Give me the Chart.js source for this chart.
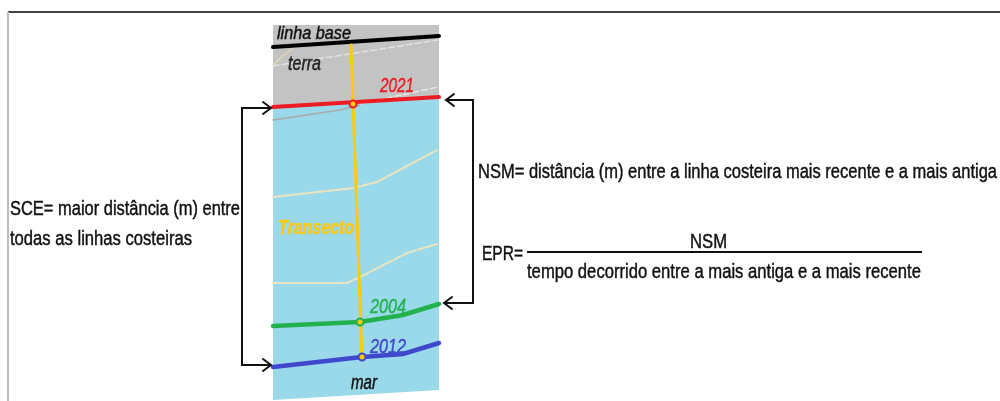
<!DOCTYPE html>
<html>
<head>
<meta charset="utf-8">
<script src="https://cdn.jsdelivr.net/npm/chart.js@4.4.1/dist/chart.umd.min.js"></script>
<style>
html,body{margin:0;padding:0;background:#fff;overflow:hidden;}
canvas{display:block;}
</style>
</head>
<body>
<canvas id="c" width="1000" height="401"></canvas>
<script>
// ---- diagram geometry (data units = reference pixels, y downward) ----
const frameTop = [{x:8,y:12},{x:1000,y:12}];
const frameLeft = [{x:8,y:12},{x:8,y:401}];
const line2021 = [{x:273,y:107},{x:439,y:97}];
const seaBottom = [{x:273,y:400},{x:439,y:390}];
const baseLine = [{x:273,y:47},{x:439,y:36}];
const line2004 = [{x:273,y:326},{x:360,y:322},{x:403,y:315},{x:439,y:304}];
const line2012 = [{x:273,y:367},{x:362,y:357},{x:403,y:354},{x:439,y:343}];
const transect = [{x:351,y:45},{x:362,y:360}];
const intersect2021 = [{x:353,y:104}];
const intersect2004 = [{x:360,y:322}];
const intersect2012 = [{x:362,y:357}];
const oldShoreA = [{x:273,y:65},{x:283,y:56},{x:292,y:49}];
const oldShoreB = [{x:273,y:66},{x:438,y:40}];
const oldShoreC1 = [{x:273,y:120},{x:340,y:110},{x:360,y:105}];
const oldShoreC2 = [{x:360,y:104},{x:438,y:87}];
const oldShoreW1 = [{x:273,y:197},{x:353,y:188},{x:377,y:182},{x:437,y:150}];
const oldShoreW2 = [{x:273,y:283},{x:347,y:283},{x:360,y:277},{x:407,y:253},{x:437,y:244}];
const bracketLeft = [{x:270,y:108},{x:242,y:108},{x:242,y:365},{x:270,y:365}];
const arrowLeftTop = [{x:263,y:102},{x:271,y:108},{x:263,y:114}];
const arrowLeftBottom = [{x:263,y:359},{x:271,y:365},{x:263,y:371}];
const bracketRight = [{x:447,y:100},{x:473,y:100},{x:473,y:303},{x:445,y:303}];
const arrowRightTop = [{x:454,y:94},{x:446,y:100},{x:454,y:106}];
const arrowRightBottom = [{x:452,y:297},{x:444,y:303},{x:452,y:309}];
const fractionBar = [{x:527,y:252},{x:922,y:252}];

// ---- texts ----
const labelTexts = ['linha base','terra','2021','Transecto','2004','2012','mar',
  'NSM= distância (m) entre a linha costeira mais recente e a mais antiga',
  'SCE= maior distância (m) entre','todas as linhas costeiras',
  'EPR=','NSM','tempo decorrido entre a mais antiga e a mais recente'];
const labelX = [277,288,380,278,370,370,351,478,10,10,482,690,527];
const labelY = [39,70,92,234,313,353,389,178,215,245,260,248,278];

// layout / style of texts
const labelStyle = [
  {w:74,size:18,font:'italic',color:'#111'},
  {w:33,size:20,font:'italic',color:'#222'},
  {w:34,size:20,font:'italic',color:'#ed1c24'},
  {w:76,size:21,font:'italic bold',color:'#ffc90e'},
  {w:36,size:21,font:'italic',color:'#22b14c'},
  {w:36,size:21,font:'italic',color:'#3f48cc'},
  {w:26,size:20,font:'italic',color:'#111'},
  {w:519,size:20,font:'',color:'#111'},
  {w:230,size:20,font:'',color:'#111'},
  {w:182,size:20,font:'',color:'#111'},
  {w:41,size:20,font:'',color:'#111'},
  {w:37,size:20,font:'',color:'#111'},
  {w:394,size:20,font:'',color:'#111'}
];

function ln(data, color, width, extra){
  return Object.assign({type:'scatter', data, showLine:true, borderColor:color, borderWidth:width,
    pointRadius:0, fill:false, tension:0, borderCapStyle:'round', borderJoinStyle:'miter'}, extra||{});
}

const datasets = [
  // 0 terra fill
  ln(line2021,'rgba(0,0,0,0)',0,{fill:{value:25}, backgroundColor:'#c3c3c3'}),
  // 1 sea fill
  ln(seaBottom,'rgba(0,0,0,0)',0,{fill:0, backgroundColor:'#99d9ea'}),
  ln(oldShoreA,'#e3d8ae',1.5),
  ln(oldShoreB,'#e2e2e2',1.5,{borderDash:[6,3]}),
  ln(oldShoreC1,'#a9a9a9',1.5),
  ln(oldShoreC2,'#e6e6e6',1.5,{borderDash:[6,3]}),
  ln(oldShoreW1,'#efe4c0',2,{borderDash:[7,2]}),
  ln(oldShoreW2,'#efe4c0',2,{borderDash:[7,2]}),
  ln(baseLine,'#000',4),
  ln(line2021,'#ed1c24',4),
  ln(line2004,'#22b14c',4.5),
  ln(line2012,'#3f48cc',4.5),
  ln(transect,'#ffc90e',3),
  {type:'scatter', data:intersect2021, pointRadius:3.5, pointBackgroundColor:'#ffc90e', pointBorderColor:'#ed1c24', pointBorderWidth:2},
  {type:'scatter', data:intersect2004, pointRadius:3.5, pointBackgroundColor:'#ffc90e', pointBorderColor:'#22b14c', pointBorderWidth:2},
  {type:'scatter', data:intersect2012, pointRadius:3.5, pointBackgroundColor:'#ffc90e', pointBorderColor:'#3f48cc', pointBorderWidth:2},
  ln(bracketLeft,'#111',2,{borderCapStyle:'butt'}),
  ln(arrowLeftTop,'#111',2),
  ln(arrowLeftBottom,'#111',2),
  ln(bracketRight,'#111',2,{borderCapStyle:'butt'}),
  ln(arrowRightTop,'#111',2),
  ln(arrowRightBottom,'#111',2),
  ln(fractionBar,'#111',2,{borderCapStyle:'butt'}),
  ln(frameTop,'#444',2,{borderCapStyle:'butt'}),
  ln(frameLeft,'#bdbdbd',2,{borderCapStyle:'butt'})
];
// draw in array order (later entries on top)
datasets.forEach((d,i)=>{ d.order = datasets.length - i; d.clip = false; });

const textPlugin = {
  id:'diagramText',
  afterDatasetsDraw(chart){
    const ctx = chart.ctx, xs = chart.scales.x, ys = chart.scales.y;
    labelTexts.forEach((t,i)=>{
      const st = labelStyle[i];
      ctx.save();
      ctx.font = (st.font? st.font+' ':'') + st.size + "px 'Liberation Sans', Arial, sans-serif";
      ctx.fillStyle = st.color;
      ctx.strokeStyle = st.color;
      ctx.lineWidth = 0.45;
      ctx.textBaseline = 'alphabetic';
      ctx.textAlign = 'left';
      const w = ctx.measureText(t).width;
      const px = xs.getPixelForValue(labelX[i]);
      const py = ys.getPixelForValue(labelY[i]);
      ctx.translate(px, py);
      ctx.scale(st.w / w, 1);
      ctx.fillText(t, 0, 0);
      ctx.strokeText(t, 0, 0);
      ctx.restore();
    });
  }
};

new Chart(document.getElementById('c'), {
  type:'scatter',
  data:{datasets},
  options:{
    responsive:false,
    animation:false,
    events:[],
    layout:{padding:0, autoPadding:false},
    plugins:{legend:{display:false}, tooltip:{enabled:false}},
    scales:{
      x:{type:'linear', min:0, max:1000, display:false},
      y:{type:'linear', min:0, max:401, reverse:true, display:false}
    }
  },
  plugins:[textPlugin]
});
</script>
</body>
</html>
